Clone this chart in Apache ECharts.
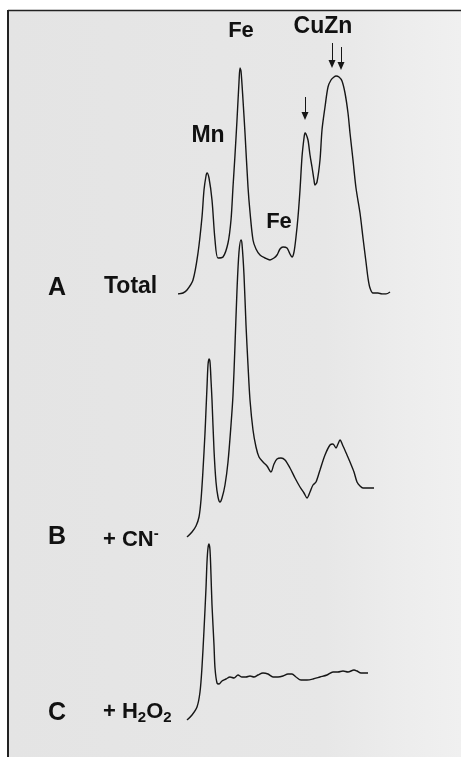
<!DOCTYPE html>
<html>
<head>
<meta charset="utf-8">
<script src="https://cdn.jsdelivr.net/npm/echarts@6/dist/echarts.min.js"></script>
<style>
  html, body { margin: 0; padding: 0; background: #fff; }
  #chart { width: 461px; height: 757px; }
</style>
</head>
<body>
<div id="chart"></div>
<script>
// densitometer scans of the activity gel, [migration, density] in arbitrary units
var laneA = [
  [0, 0], [2.5, 0.5], [4.5, 2], [7.5, 7], [10, 20.5], [12, 38.5], [13, 52], [14, 59], [14.5, 60.5],
  [15.5, 58], [17, 47], [18.5, 27], [20, 18], [22.5, 18.5], [25, 25.5], [26.5, 37], [27.5, 53.5],
  [28.5, 69.5], [29.5, 87], [30.5, 106], [31, 113], [31.5, 111.5], [32.5, 97], [33.5, 80.5],
  [35, 53.5], [36, 41], [37.5, 27], [39, 22.5], [41, 19.5], [43.5, 18], [46, 17], [48, 18],
  [49.5, 19.5], [51, 22.5], [52.5, 23.5], [54.5, 23], [56, 20], [57, 18.5], [58, 21], [59, 28.5],
  [60, 38.5], [61, 52], [62, 68.5], [63, 78], [63.5, 80.5], [64, 80], [65, 77], [66, 69.5],
  [67, 63.5], [68, 57], [68.5, 54.5], [69.5, 56], [71, 67], [72, 82], [73.5, 93.5], [75, 103.5],
  [76.5, 107], [78, 108.5], [79, 109], [80.5, 108.5], [82, 106.5], [83.5, 100.5], [85, 90.5],
  [86, 80.5], [87.5, 67], [89, 53], [91, 40.5], [92.5, 28], [94, 16], [95, 8], [96, 3],
  [97.5, 0.5], [100, 0.5], [102, 0], [104, 0], [106, 1]
];
var laneB = [
  [4.5, 0], [7, 2.5], [9, 5.5], [10.5, 10], [11.5, 18.5], [12.5, 33.5], [13.5, 52], [14, 63.5],
  [14.5, 75], [15, 86], [15.5, 89], [16, 87.5], [16.5, 78.5], [17, 68.5], [18, 43.5], [19, 27.5],
  [20, 20], [21, 17.5], [22, 19.5], [23.5, 26], [25, 37.5], [26.5, 56], [27.5, 71], [28.5, 96],
  [29.5, 123.5], [30.5, 142.5], [31.5, 148.5], [32, 146.5], [33, 131], [34, 106], [35, 86],
  [36, 68.5], [37.5, 53.5], [39, 45], [40.5, 40], [42.5, 37.5], [44.5, 35.5], [46.5, 32.5],
  [48, 36.5], [49.5, 39], [51.5, 39.5], [53.5, 38.5], [56, 34.5], [58.5, 29.5], [61, 25],
  [63, 22], [64.5, 19.5], [66, 22.5], [67.5, 26], [69, 27.5], [71, 33.5], [73.5, 41], [76, 46],
  [77.5, 46.5], [79, 44.5], [80, 46.5], [81, 48.5], [82.5, 45.5], [84.5, 41], [86, 37.5],
  [88, 32.5], [89.5, 27.5], [91, 25.5], [92.5, 24.5], [95, 24.5], [98, 24.5]
];
var laneC = [
  [4.5, 0], [7, 2.5], [9.5, 6.5], [11, 14], [12, 26.5], [13, 45], [14, 66], [14.5, 79], [15, 86],
  [15.5, 88], [16, 85], [16.5, 72.5], [17, 57.5], [18, 37.5], [18.5, 26], [19.5, 18.5], [20.5, 18],
  [22, 19.5], [24, 20.5], [26, 21.5], [28, 21], [30, 22.5], [32, 21.5], [34, 21.5], [36, 22],
  [38, 21.5], [40, 22.5], [42.5, 23.5], [45, 23], [47.5, 21.5], [50, 21.5], [52.5, 22], [55, 23],
  [57, 23], [59, 21.5], [61.5, 20], [64.5, 20], [67.5, 20.5], [71, 21.5], [74.5, 22.5], [77.5, 24],
  [80, 24], [82.5, 24.5], [85, 24], [88, 25], [89.5, 24.5], [91.5, 23.5], [95, 23.5]
];
// arrows over lane A bands: [x, from, to]
var arrowsA = [[63.5, 98.5, 89], [77, 125.5, 115], [81.5, 123.5, 114]];

var chart = echarts.init(document.getElementById('chart'));

var lineStyle = { color: '#161616', width: 1.4 };
var bold = function (size) { return 'bold ' + size + 'px "Liberation Sans", Arial, sans-serif'; };

function label(x, y, text, size, align) {
  return {
    type: 'text', x: x, y: y, silent: true,
    style: { text: text, font: bold(size), fill: '#111', align: align || 'center', verticalAlign: 'middle' }
  };
}

var option = {
  animation: false,
  backgroundColor: '#fff',
  grid: [
    { left: 178, width: 220, top: 14, height: 280 },
    { left: 178, width: 220, top: 217, height: 320 },
    { left: 178, width: 220, top: 520, height: 200 }
  ],
  xAxis: [0, 1, 2].map(function (i) {
    return { type: 'value', gridIndex: i, min: 0, max: 110, show: false };
  }),
  yAxis: [
    { type: 'value', gridIndex: 0, min: 0, max: 140, show: false },
    { type: 'value', gridIndex: 1, min: 0, max: 160, show: false },
    { type: 'value', gridIndex: 2, min: 0, max: 100, show: false }
  ],
  graphic: [
    {
      type: 'rect', z: -10, silent: true,
      shape: { x: 8, y: 10, width: 453, height: 747 },
      style: {
        fill: {
          type: 'linear', x: 0, y: 0, x2: 1, y2: 0,
          colorStops: [
            { offset: 0, color: '#e4e4e4' },
            { offset: 0.7, color: '#e7e7e7' },
            { offset: 0.85, color: '#ececec' },
            { offset: 1, color: '#f0f0f0' }
          ]
        }
      }
    },
    { type: 'line', silent: true, shape: { x1: 8, y1: 10.5, x2: 461, y2: 10.5 }, style: { stroke: '#222', lineWidth: 1.5 } },
    { type: 'line', silent: true, shape: { x1: 8, y1: 10, x2: 8, y2: 757 }, style: { stroke: '#222', lineWidth: 2 } },
    label(241, 31, 'Fe', 22),
    label(323, 27, 'CuZn', 23),
    label(208, 136, 'Mn', 23),
    label(279, 222, 'Fe', 22),
    label(57, 288, 'A', 25),
    label(104, 287, 'Total', 23, 'left'),
    label(57, 537, 'B', 25),
    label(57, 713, 'C', 25),
    {
      type: 'text', x: 103, y: 540, silent: true,
      style: {
        text: '{m|+ CN}{sup|-}', verticalAlign: 'middle', fill: '#111',
        rich: {
          m: { font: bold(22), lineHeight: 27, fill: '#111' },
          sup: { font: bold(15), lineHeight: 27, verticalAlign: 'top', fill: '#111' }
        }
      }
    },
    {
      type: 'text', x: 103, y: 712, silent: true,
      style: {
        text: '{m|+ H}{sub|2}{m|O}{sub|2}', verticalAlign: 'middle', fill: '#111',
        rich: {
          m: { font: bold(22), lineHeight: 27, fill: '#111' },
          sub: { font: bold(15), lineHeight: 27, verticalAlign: 'bottom', fill: '#111' }
        }
      }
    }
  ],
  series: [
    {
      type: 'line', xAxisIndex: 0, yAxisIndex: 0, data: laneA,
      showSymbol: false, smooth: 0.3, lineStyle: lineStyle, silent: true,
      markLine: {
        silent: true,
        symbol: ['none', 'triangle'],
        symbolSize: [7, 8],
        label: { show: false },
        lineStyle: { color: '#161616', width: 1, type: 'solid' },
        data: arrowsA.map(function (a) {
          return [{ coord: [a[0], a[1]] }, { coord: [a[0], a[2]] }];
        })
      }
    },
    {
      type: 'line', xAxisIndex: 1, yAxisIndex: 1, data: laneB,
      showSymbol: false, smooth: 0.3, lineStyle: lineStyle, silent: true
    },
    {
      type: 'line', xAxisIndex: 2, yAxisIndex: 2, data: laneC,
      showSymbol: false, smooth: 0.3, lineStyle: lineStyle, silent: true
    }
  ]
};

chart.setOption(option);
</script>
</body>
</html>
